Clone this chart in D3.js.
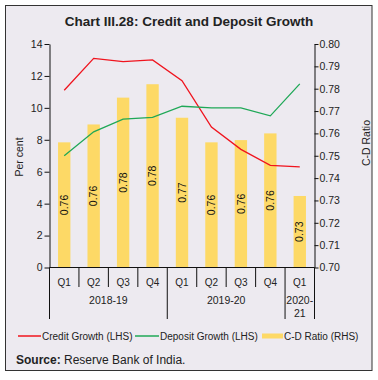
<!DOCTYPE html>
<html>
<head>
<meta charset="utf-8">
<script src="https://cdn.jsdelivr.net/npm/d3@7"></script>
<style>
  body { margin: 0; background: #fff; }
  svg { display: block; font-family: "Liberation Sans", Arial, sans-serif; }
</style>
</head>
<body>
<div class="content"></div>
<script>
//--> Chart data
const quarters = ["Q1", "Q2", "Q3", "Q4", "Q1", "Q2", "Q3", "Q4", "Q1"];
const years = [
  { label: ["2018-19"], from: 0, to: 4 },
  { label: ["2019-20"], from: 4, to: 8 },
  { label: ["2020-", "21"], from: 8, to: 9 },
];
const creditGrowth = [11.1, 13.1, 12.9, 13.0, 11.7, 8.8, 7.4, 6.4, 6.3];
const depositGrowth = [7.0, 8.5, 9.3, 9.4, 10.1, 10.0, 10.0, 9.5, 11.5];
const cdRatio = [0.756, 0.764, 0.776, 0.782, 0.767, 0.756, 0.757, 0.76, 0.732];
const leftTicks = [0, 2, 4, 6, 8, 10, 12, 14];
const rightTicks = d3.range(0, 11).map(i => 0.7 + i * 0.01);

//--> Set up main elements
const width = 378;
const height = 380;
const bg = "#edeaf0";
const red = "#f0141e";
const green = "#1fa857";
const yellow = "#fdd966";
const ink = "#222";

const svg = d3
  .select(".content")
  .append("svg")
  .attr("width", width)
  .attr("height", height);

svg
  .append("rect")
  .attr("x", 5.5)
  .attr("y", 5.5)
  .attr("width", 366.5)
  .attr("height", 365)
  .attr("fill", bg)
  .attr("stroke", "#333")
  .attr("stroke-width", 1);

svg
  .append("text")
  .attr("x", 189)
  .attr("y", 26)
  .attr("text-anchor", "middle")
  .attr("font-size", 13.5)
  .attr("font-weight", "bold")
  .attr("fill", ink)
  .text("Chart III.28: Credit and Deposit Growth");

//--> Scales
const plotLeft = 49.5;
const plotRight = 314.5;
const plotTop = 44;
const plotBottom = 267.5;

const idx = d3.range(quarters.length);
const xOuter = d3.scaleBand().domain(idx).range([plotLeft, plotRight]).padding(0);
const x = d3
  .scaleBand()
  .domain(idx)
  .range([plotLeft, plotRight])
  .paddingInner(0.58)
  .paddingOuter(0.29);

const yLeft = d3.scaleLinear().domain([0, 14]).range([plotBottom, plotTop]);
const yRight = d3.scaleLinear().domain([0.7, 0.8]).range([plotBottom, plotTop]);

//--> Bars
svg
  .append("g")
  .selectAll("rect")
  .data(cdRatio)
  .join("rect")
  .attr("x", (_, i) => x(i))
  .attr("y", d => yRight(d))
  .attr("width", x.bandwidth())
  .attr("height", d => plotBottom - yRight(d))
  .attr("fill", yellow);

svg
  .append("g")
  .selectAll("text")
  .data(cdRatio)
  .join("text")
  .attr("transform", (d, i) => {
    const cx = x(i) + x.bandwidth() / 2;
    const cy = (yRight(d) + plotBottom) / 2;
    return `translate(${cx},${cy}) rotate(-90)`;
  })
  .attr("text-anchor", "middle")
  .attr("dy", "0.35em")
  .attr("font-size", 10.5)
  .attr("fill", "#111")
  .text(d => d.toFixed(2));

//--> Lines
const line = d3
  .line()
  .x((_, i) => x(i) + x.bandwidth() / 2)
  .y(d => yLeft(d));

svg
  .append("path")
  .datum(creditGrowth)
  .attr("d", line)
  .attr("fill", "none")
  .attr("stroke", red)
  .attr("stroke-width", 1.3);

svg
  .append("path")
  .datum(depositGrowth)
  .attr("d", line)
  .attr("fill", "none")
  .attr("stroke", green)
  .attr("stroke-width", 1.3);

//--> Axes
const axisLeft = svg
  .append("g")
  .attr("transform", `translate(${plotLeft},0)`)
  .call(
    d3
      .axisLeft(yLeft)
      .tickValues(leftTicks)
      .tickSize(5)
      .tickSizeOuter(0)
      .tickPadding(2)
  );

const axisRight = svg
  .append("g")
  .attr("transform", `translate(${plotRight},0)`)
  .call(
    d3
      .axisRight(yRight)
      .tickValues(rightTicks)
      .tickFormat(d3.format(".2f"))
      .tickSize(4)
      .tickSizeOuter(0)
      .tickPadding(1)
  );

[axisLeft, axisRight].forEach(a => {
  a.selectAll("text").attr("font-size", 10.5).attr("fill", ink);
  a.selectAll("line, path").attr("stroke", "#111");
  a.attr("font-family", null);
});

svg
  .append("text")
  .attr("transform", "translate(19,157) rotate(-90)")
  .attr("text-anchor", "middle")
  .attr("dy", "0.35em")
  .attr("font-size", 10.5)
  .attr("fill", ink)
  .text("Per cent");

svg
  .append("text")
  .attr("transform", "translate(366,143) rotate(-90)")
  .attr("text-anchor", "middle")
  .attr("dy", "0.35em")
  .attr("font-size", 10.5)
  .attr("fill", ink)
  .text("C-D Ratio");

//--> Category axis
const xAxis = svg.append("g").attr("stroke", "#111");

xAxis
  .append("line")
  .attr("x1", plotLeft)
  .attr("x2", plotRight)
  .attr("y1", plotBottom)
  .attr("y2", plotBottom);

const boundaries = idx.map(i => xOuter(i)).concat(plotRight);
const yearEdges = new Set(years.flatMap(g => [g.from, g.to]));

xAxis
  .selectAll(".sep")
  .data(boundaries)
  .join("line")
  .attr("class", "sep")
  .attr("x1", d => d)
  .attr("x2", d => d)
  .attr("y1", plotBottom)
  .attr("y2", (_, i) => (yearEdges.has(i) ? 319 : 287));

svg
  .append("g")
  .selectAll("text")
  .data(quarters)
  .join("text")
  .attr("x", (_, i) => xOuter(i) + xOuter.bandwidth() / 2)
  .attr("y", 282)
  .attr("dy", "0.35em")
  .attr("text-anchor", "middle")
  .attr("font-size", 10)
  .attr("fill", ink)
  .text(d => d);

svg
  .append("g")
  .selectAll("text")
  .data(years)
  .join("text")
  .attr("x", d => (xOuter(d.from) + boundaries[d.to]) / 2)
  .attr("y", 300.5)
  .attr("text-anchor", "middle")
  .attr("font-size", 10.5)
  .attr("fill", ink)
  .selectAll("tspan")
  .data(d => d.label)
  .join("tspan")
  .attr("x", function () {
    return this.parentNode.getAttribute("x");
  })
  .attr("dy", (_, i) => (i === 0 ? "0.35em" : "1.2em"))
  .text(d => d);

//--> Legend
const legendItems = [
  { label: "Credit Growth (LHS)", color: red, x: 18, w: 23, thick: 1.5 },
  { label: "Deposit Growth (LHS)", color: green, x: 135, w: 24, thick: 1.5 },
  { label: "C-D Ratio (RHS)", color: yellow, x: 262, w: 21, thick: 5 },
];

const legend = svg.append("g").attr("transform", "translate(0,336)");

legend
  .selectAll("line")
  .data(legendItems)
  .join("line")
  .attr("x1", d => d.x)
  .attr("x2", d => d.x + d.w)
  .attr("stroke", d => d.color)
  .attr("stroke-width", d => d.thick);

legend
  .selectAll("text")
  .data(legendItems)
  .join("text")
  .attr("x", d => d.x + d.w + 1)
  .attr("dy", "0.35em")
  .attr("font-size", 10)
  .attr("fill", ink)
  .text(d => d.label);

//--> Source
const source = svg
  .append("text")
  .attr("x", 16)
  .attr("y", 364)
  .attr("font-size", 12)
  .attr("fill", ink);
source.append("tspan").attr("font-weight", "bold").text("Source:");
source.append("tspan").text(" Reserve Bank of India.");
</script>
</body>
</html>
